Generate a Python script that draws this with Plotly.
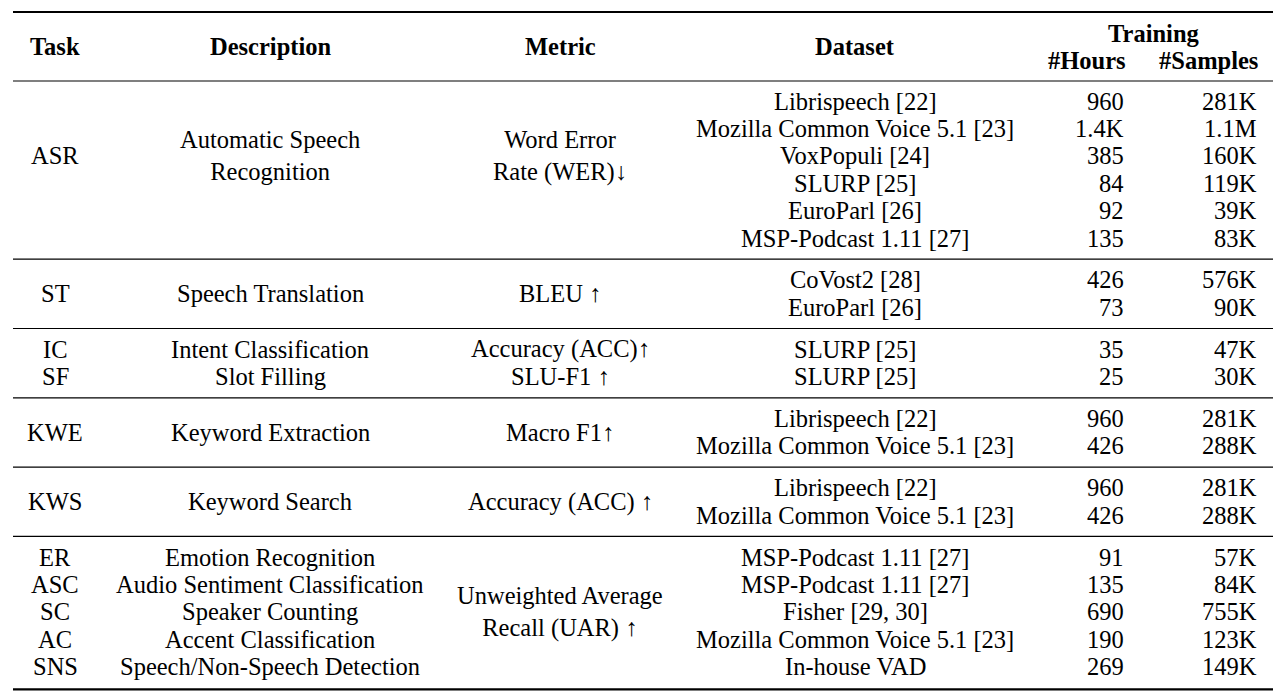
import plotly.graph_objects as go

# ---- data ----
group_sizes = [6, 2, 2, 2, 2, 5]
tasks = [["ASR"], ["ST"], ["IC", "SF"], ["KWE"], ["KWS"], ["ER", "ASC", "SC", "AC", "SNS"]]
task_rows = [[2], [0.5], [0, 1], [0.5], [0.5], [0, 1, 2, 3, 4]]
descriptions = [["Automatic Speech<br>Recognition"], ["Speech Translation"],
                ["Intent Classification", "Slot Filling"], ["Keyword Extraction"], ["Keyword Search"],
                ["Emotion Recognition", "Audio Sentiment Classification", "Speaker Counting",
                 "Accent Classification", "Speech/Non-Speech Detection"]]
metrics = [["Word Error<br>Rate (WER)↓"], ["BLEU ↑"], ["Accuracy (ACC)↑", "SLU-F1 ↑"],
           ["Macro F1↑"], ["Accuracy (ACC) ↑"], ["Unweighted Average<br>Recall (UAR) ↑"]]
metric_rows = [[2], [0.5], [0, 1], [0.5], [0.5], [2]]
datasets = ["Librispeech [22]", "Mozilla Common Voice 5.1 [23]", "VoxPopuli [24]", "SLURP [25]",
            "EuroParl [26]", "MSP-Podcast 1.11 [27]",
            "CoVost2 [28]", "EuroParl [26]",
            "SLURP [25]", "SLURP [25]",
            "Librispeech [22]", "Mozilla Common Voice 5.1 [23]",
            "Librispeech [22]", "Mozilla Common Voice 5.1 [23]",
            "MSP-Podcast 1.11 [27]", "MSP-Podcast 1.11 [27]", "Fisher [29, 30]",
            "Mozilla Common Voice 5.1 [23]", "In-house VAD"]
hours = ["960", "1.4K", "385", "84", "92", "135", "426", "73", "35", "25", "960", "426",
         "960", "426", "91", "135", "690", "190", "269"]
samples = ["281K", "1.1M", "160K", "119K", "39K", "83K", "576K", "90K", "47K", "30K",
           "281K", "288K", "281K", "288K", "57K", "84K", "755K", "123K", "149K"]

# ---- layout ----
W, H = 1286, 699
OFF = 8  # page body margin
F = dict(family="Liberation Serif, Times New Roman, serif", size=24.5, color="black")
x_task, x_desc, x_met, x_ds, x_hr, x_sm = 55, 270, 560, 855, 1126, 1259
row_h, top0 = 27.4, 101
line_l, line_r = 13, 1273

ann, shapes = [], []
def txt(x, y, s, anchor="center", bold=False):
    ann.append(dict(x=x, y=y, text=f"<b>{s}</b>" if bold else s, showarrow=False,
                    xanchor=anchor, yanchor="middle", font=F, align="center"))
def hline(y, w):
    shapes.append(dict(type="line", x0=line_l, x1=line_r, y0=y, y1=y, line=dict(color="black", width=w)))

hline(12, 2.2); hline(81, 1.2)
for x, s in [(x_task, "Task"), (x_desc, "Description"), (x_met, "Metric"), (x_ds, "Dataset")]:
    txt(x, 46, s, bold=True)
txt(1154, 33, "Training", bold=True)
txt(1087, 60, "#Hours", bold=True)
txt(1208, 60, "#Samples", bold=True)

y = top0
k = 0
for g, n in enumerate(group_sizes):
    ys = [y + i * row_h for i in range(n)]
    for t, d, r in zip(tasks[g], descriptions[g], task_rows[g]):
        yy = y + r * row_h
        txt(x_task, yy, t); txt(x_desc, yy, d)
    for m, r in zip(metrics[g], metric_rows[g]):
        txt(x_met, y + r * row_h, m)
    for yy in ys:
        txt(x_ds, yy, datasets[k]); txt(x_hr, yy, hours[k], "right"); txt(x_sm, yy, samples[k], "right")
        k += 1
    last = ys[-1]
    if g < len(group_sizes) - 1:
        hline(last + row_h / 2 + 7.5, 1.2)
        y = last + row_h + 14.5
    else:
        hline(last + row_h / 2 + 9, 2.2)

fig = go.Figure()
fig.update_layout(width=W, height=H, margin=dict(l=0, r=0, t=0, b=0),
                  paper_bgcolor="white", plot_bgcolor="white",
                  xaxis=dict(range=[OFF, W + OFF], visible=False, fixedrange=True),
                  yaxis=dict(range=[H + OFF, OFF], visible=False, fixedrange=True),
                  annotations=ann, shapes=shapes, showlegend=False)
fig.write_html("out.html")
